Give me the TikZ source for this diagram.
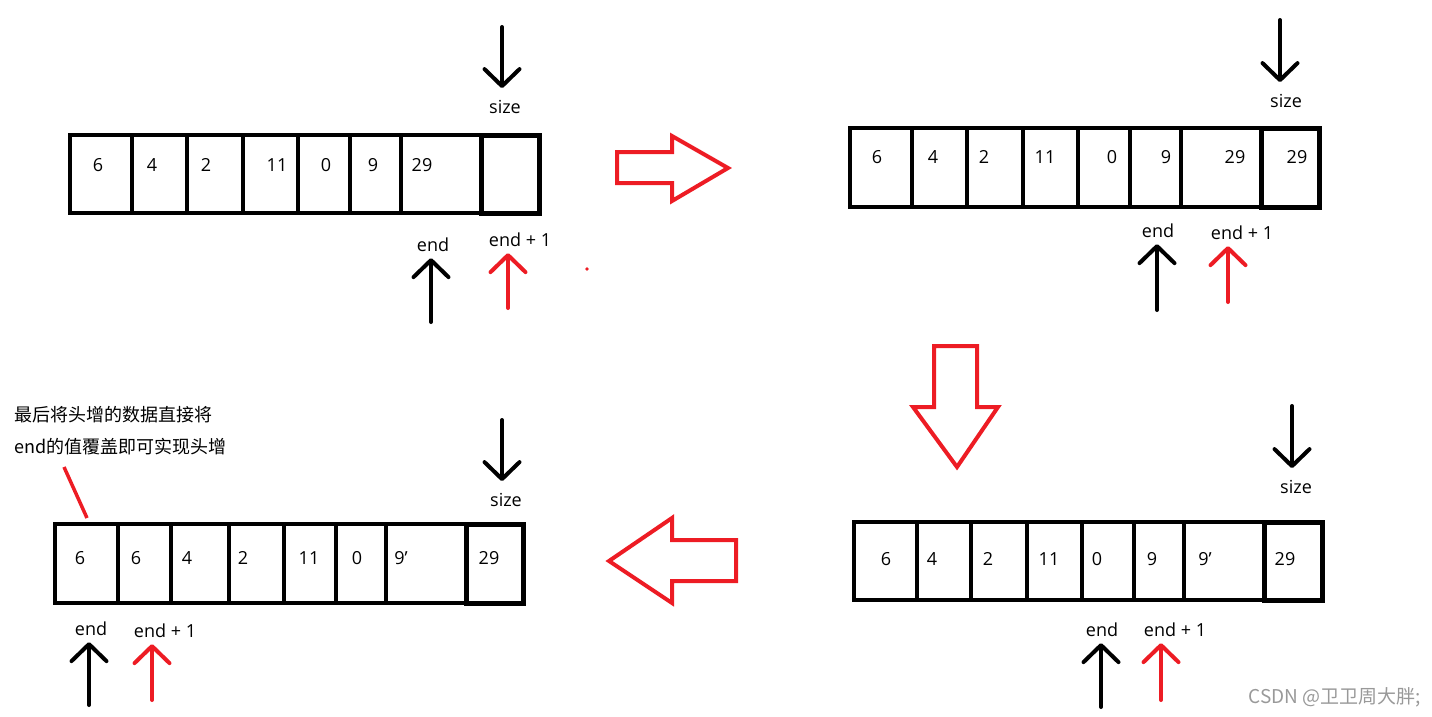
\documentclass[tikz,border=0pt]{standalone}
\usepackage{fontspec}
\setmainfont{Open Sans}
\newfontfamily\cjk{Noto Sans CJK SC}
\usetikzlibrary{arrows.meta}
\definecolor{paintred}{RGB}{237,28,36}

\begin{document}
\begin{tikzpicture}[x=1pt, y=-1pt]

    \tikzset{frame/.style={draw, line width=4pt, line join=miter}};
    \tikzset{sizebox/.style={frame, line width=5pt}};
    \tikzset{val/.style={inner sep=0pt, font=\fontsize{18}{21}\selectfont}};
    \tikzset{note/.style={val, anchor=west, font=\cjk\fontsize{18}{21}\selectfont}};
    \tikzset{ptr/.style={line width=4pt, line cap=round, shorten >=6pt,%
      -{Straight Barb[length=17pt, width=35pt, round]}}};
    \tikzset{sizeptr/.style={ptr, shorten >=12pt}};
    \tikzset{redptr/.style={ptr, draw=paintred}};
    \tikzset{hollow/.style={draw=paintred, line width=4pt, line join=miter}};

    \useasboundingbox (0,0) rectangle (1432,717);

    %%%%%%%%%%%%%%%
    %  step one   %
    %%%%%%%%%%%%%%%
    \draw [frame] (70,135) rectangle (481,213);
    \draw [frame] (132,135) -- (132,213) (187,135) -- (187,213) (243,135) -- (243,213)
      (298,135) -- (298,213) (350,135) -- (350,213) (401,135) -- (401,213);
    \draw [sizebox] (481,135) rectangle (539,213);
    \path (98,165) node [val] (v1a) {6};
    \path (152,165) node [val] (v1b) {4};
    \path (206,165) node [val] (v1c) {2};
    \path (277,165) node [val] (v1d) {11};
    \path (326,165) node [val] (v1e) {0};
    \path (373,165) node [val] (v1f) {9};
    \path (422,165) node [val] (v1g) {29};

    \path (502,27) coordinate (szt1) (505,107) node [val] (siz1) {size};
    \path (431,322) coordinate (ent1) (433,245) node [val] (end1) {end};
    \path (508,308) coordinate (ept1) (520,240) node [val] (enp1) {end + 1};
    \draw [sizeptr] (szt1) -- (szt1 |- siz1.north);
    \draw [ptr] (ent1) -- (ent1 |- end1.south);
    \draw [redptr] (ept1) -- (ept1 |- enp1.south);
    \fill [paintred] (587,269) circle (1.8pt);

    %%%%%%%%%%%%%%%
    %  step two   %
    %%%%%%%%%%%%%%%
    \draw [frame] (850,128) rectangle (1261,207);
    \draw [frame] (912,128) -- (912,207) (967,128) -- (967,207) (1023,128) -- (1023,207)
      (1078,128) -- (1078,207) (1130,128) -- (1130,207) (1181,128) -- (1181,207);
    \draw [sizebox] (1261,128) rectangle (1319,207);
    \path (877,157) node [val] (v2a) {6};
    \path (933,157) node [val] (v2b) {4};
    \path (984,157) node [val] (v2c) {2};
    \path (1045,157) node [val] (v2d) {11};
    \path (1112,157) node [val] (v2e) {0};
    \path (1166,157) node [val] (v2f) {9};
    \path (1235,157) node [val] (v2g) {29};
    \path (1297,157) node [val] (v2h) {29};

    \path (1280,20) coordinate (szt2) (1286,101) node [val] (siz2) {size};
    \path (1157,310) coordinate (ent2) (1158,231) node [val] (end2) {end};
    \path (1228,302) coordinate (ept2) (1242,233) node [val] (enp2) {end + 1};
    \draw [sizeptr] (szt2) -- (szt2 |- siz2.north);
    \draw [ptr] (ent2) -- (ent2 |- end2.south);
    \draw [redptr] (ept2) -- (ept2 |- enp2.south);

    %%%%%%%%%%%%%%%
    %  step three %
    %%%%%%%%%%%%%%%
    \draw [frame] (854,522) rectangle (1264,600);
    \draw [frame] (917,522) -- (917,600) (971,522) -- (971,600) (1027,522) -- (1027,600)
      (1082,522) -- (1082,600) (1134,522) -- (1134,600) (1184,522) -- (1184,600);
    \draw [sizebox] (1264,522) rectangle (1322,600);
    \path (886,559) node [val] (v3a) {6};
    \path (932,559) node [val] (v3b) {4};
    \path (988,559) node [val] (v3c) {2};
    \path (1049,559) node [val] (v3d) {11};
    \path (1097,559) node [val] (v3e) {0};
    \path (1152,559) node [val] (v3f) {9};
    \path (1205,559) node [val] (v3g) {9'};
    \path (1285,559) node [val] (v3h) {29};

    \path (1292,406) coordinate (szt3) (1296,487) node [val] (siz3) {size};
    \path (1101,707) coordinate (ent3) (1102,630) node [val] (end3) {end};
    \path (1161,700) coordinate (ept3) (1175,630) node [val] (enp3) {end + 1};
    \draw [sizeptr] (szt3) -- (szt3 |- siz3.north);
    \draw [ptr] (ent3) -- (ent3 |- end3.south);
    \draw [redptr] (ept3) -- (ept3 |- enp3.south);

    %%%%%%%%%%%%%%%
    %  step four  %
    %%%%%%%%%%%%%%%
    \draw [frame] (55,524) rectangle (466,603);
    \draw [frame] (118,524) -- (118,603) (171,524) -- (171,603) (229,524) -- (229,603)
      (284,524) -- (284,603) (336,524) -- (336,603) (386,524) -- (386,603);
    \draw [sizebox] (466,524) rectangle (523,603);
    \path (80,558) node [val] (v4a) {6};
    \path (136,558) node [val] (v4b) {6};
    \path (187,558) node [val] (v4c) {4};
    \path (243,558) node [val] (v4d) {2};
    \path (309,558) node [val] (v4e) {11};
    \path (357,558) node [val] (v4f) {0};
    \path (401,558) node [val] (v4g) {9'};
    \path (489,558) node [val] (v4h) {29};

    \path (502,420) coordinate (szt4) (506,500) node [val] (siz4) {size};
    \path (89,705) coordinate (ent4) (91,629) node [val] (end4) {end};
    \path (152,700) coordinate (ept4) (165,631) node [val] (enp4) {end + 1};
    \draw [sizeptr] (szt4) -- (szt4 |- siz4.north);
    \draw [ptr] (ent4) -- (ent4 |- end4.south);
    \draw [redptr] (ept4) -- (ept4 |- enp4.south);

    \path (14,415) node [note] (nt1) {最后将头增的数据直接将};
    \path (14,447) node [note] (nt2) {end的值覆盖即可实现头增};
    \path (64,467) coordinate (cue) (87,518) coordinate (hit);
    \draw [paintred, line width=3.5pt] (cue) -- (hit);

    %%%%%%%%%%%%%%%
    %  big arrows %
    %%%%%%%%%%%%%%%
    \draw [hollow] (617,152) -- (672,152) -- (672,136) -- (728,168) -- (672,201)
      -- (672,183) -- (617,183) -- cycle;
    \draw [hollow] (934,346) -- (977,346) -- (977,407) -- (998,407) -- (957,467)
      -- (913,407) -- (934,407) -- cycle;
    \draw [hollow] (736,540) -- (672,540) -- (672,518) -- (609,561) -- (672,603)
      -- (672,581) -- (736,581) -- cycle;

    \path (1421,697) node [val, anchor=east, text=black!40, font=\cjk\fontsize{19}{22}\selectfont] (mark) {CSDN @卫卫周大胖;};

  \end{tikzpicture}
\end{document}
